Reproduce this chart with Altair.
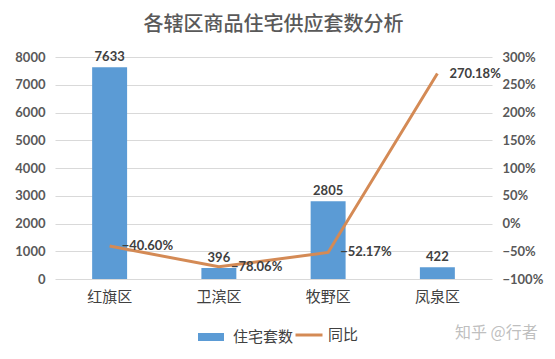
import altair as alt
import pandas as pd

districts = ["红旗区", "卫滨区", "牧野区", "凤泉区"]
units = [7633, 396, 2805, 422]
yoy = [-0.4060, -0.7806, -0.5217, 2.7018]
left_ticks = [0, 1000, 2000, 3000, 4000, 5000, 6000, 7000, 8000]
right_ticks = [-1.0, -0.5, 0.0, 0.5, 1.0, 1.5, 2.0, 2.5, 3.0]

df = pd.DataFrame({
    "区": districts,
    "住宅套数": units,
    "同比": yoy,
    "s1": ["住宅套数"] * 4,
    "s2": ["同比"] * 4,
})

NUM_FONT = "Lato, Noto Sans CJK SC"
CJK_FONT = "Noto Sans CJK SC"
BLUE = "#5B9BD5"
ORANGE = "#D48A55"

x = alt.X(
    "区:N",
    sort=districts,
    scale=alt.Scale(paddingInner=0.68, paddingOuter=0.34),
    axis=alt.Axis(title=None, labelAngle=0, labelFontSize=15, labelColor="#404040",
                  labelFont=CJK_FONT, domain=False, ticks=False, labelPadding=10),
)

y_left = alt.Y(
    "住宅套数:Q",
    scale=alt.Scale(domain=[0, 8000], nice=False),
    axis=alt.Axis(title=None, values=left_ticks, labelFontWeight="bold", labelFont=NUM_FONT,
                  labelFontSize=13, labelColor="#595959", domain=False, ticks=False,
                  labelPadding=10, gridColor="#D9D9D9", format="d"),
)

y_right = alt.Y(
    "同比:Q",
    scale=alt.Scale(domain=[-1, 3], nice=False),
    axis=alt.Axis(title=None, orient="right", values=right_ticks, format=".0%",
                  labelFontWeight="bold", labelFont=NUM_FONT, labelFontSize=13,
                  labelColor="#595959", domain=False, ticks=False, grid=False,
                  labelPadding=10),
)

base = alt.Chart(df)

bars = base.mark_bar().encode(
    x=x,
    y=y_left,
    color=alt.Color(
        "s1:N",
        scale=alt.Scale(domain=["住宅套数"], range=[BLUE]),
        legend=alt.Legend(title=None, orient="none", legendX=139, legendY=263,
                          symbolType="stroke", symbolSize=676, symbolStrokeWidth=8,
                          symbolStrokeColor=BLUE, labelFont=CJK_FONT, labelFontSize=15,
                          labelColor="#404040", labelOffset=5),
    ),
)

bar_text = base.mark_text(dy=-10, fontWeight="bold", font=NUM_FONT, fontSize=13,
                          color="#404040").encode(x=x, y=y_left, text=alt.Text("住宅套数:Q", format="d"))

line = base.mark_line(strokeWidth=3).encode(
    x=x,
    y=y_right,
    stroke=alt.Stroke(
        "s2:N",
        scale=alt.Scale(domain=["同比"], range=[ORANGE]),
        legend=alt.Legend(title=None, orient="none", legendX=239, legendY=263,
                          symbolType="stroke", symbolSize=729, symbolStrokeWidth=3,
                          labelFont=CJK_FONT, labelFontSize=15, labelColor="#404040",
                          labelOffset=4),
    ),
)

line_text = base.mark_text(align="left", baseline="middle", dx=12, fontWeight="bold",
                           font=NUM_FONT, fontSize=13, color="#404040").encode(
    x=x, y=y_right, text=alt.Text("同比:Q", format=".2%"))

watermark = alt.Chart(pd.DataFrame({"t": ["知乎 @行者"]})).mark_text(
    align="left", baseline="middle", font=CJK_FONT, fontSize=16, color="#BFBFBF"
).encode(x=alt.value(400), y=alt.value(276), text="t:N")

chart = alt.layer(
    alt.layer(bars, bar_text),
    alt.layer(line, line_text),
    watermark,
).resolve_scale(y="independent", color="independent").properties(
    width=437,
    height=222,
    autosize=alt.AutoSizeParams(type="none"),
    padding={"left": 47, "top": 49, "right": 55, "bottom": 72},
    title=alt.TitleParams("各辖区商品住宅供应套数分析", fontSize=20, color="#595959",
                          font=CJK_FONT, fontWeight=500, anchor="middle", offset=16),
).configure_view(stroke=None)

chart.save("out.html", embed_options={"renderer": "svg", "actions": False})
